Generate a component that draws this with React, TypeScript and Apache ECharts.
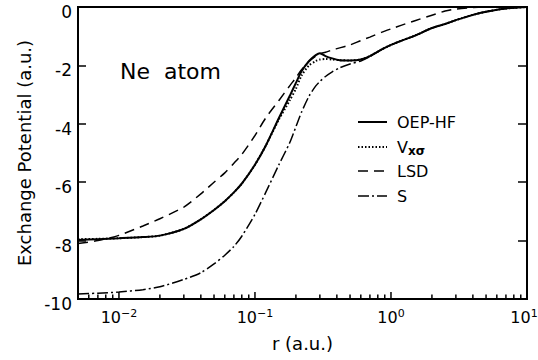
import React, { useEffect, useRef } from "react";
import * as echarts from "echarts";

const rGrid = [0.005, 0.007, 0.01, 0.015, 0.02, 0.03, 0.04, 0.05, 0.06, 0.07, 0.08, 0.1, 0.12, 0.15, 0.18, 0.2, 0.22, 0.25, 0.28, 0.3, 0.33, 0.37, 0.42, 0.5, 0.6, 0.7, 0.85, 1, 1.2, 1.5, 2, 2.5, 3, 4, 5, 7, 10];

const oepHF = [-7.98, -7.95, -7.92, -7.88, -7.83, -7.6, -7.27, -6.95, -6.65, -6.35, -6.05, -5.4, -4.75, -3.8, -3.05, -2.6, -2.2, -1.85, -1.65, -1.58, -1.68, -1.76, -1.82, -1.83, -1.8, -1.68, -1.46, -1.3, -1.15, -0.98, -0.72, -0.58, -0.45, -0.27, -0.16, -0.05, 0];

const vxSigma = [-7.95, -7.94, -7.92, -7.88, -7.83, -7.6, -7.27, -6.95, -6.65, -6.35, -6.05, -5.4, -4.75, -3.85, -3.2, -2.8, -2.35, -2.0, -1.85, -1.8, -1.78, -1.8, -1.82, -1.83, -1.8, -1.68, -1.46, -1.3, -1.15, -0.98, -0.72, -0.58, -0.45, -0.27, -0.16, -0.05, 0];

const lsd = [-8.1, -8.0, -7.82, -7.5, -7.25, -6.85, -6.4, -6.0, -5.68, -5.35, -5.05, -4.4, -3.8, -3.2, -2.7, -2.42, -2.15, -1.86, -1.68, -1.6, -1.55, -1.47, -1.4, -1.3, -1.15, -1.03, -0.87, -0.75, -0.62, -0.47, -0.28, -0.14, -0.07, -0.02, 0, 0, 0];

const sPot = [-9.83, -9.8, -9.76, -9.68, -9.58, -9.33, -9.1, -8.8, -8.5, -8.2, -7.85, -7.1, -6.35, -5.4, -4.65, -4.1, -3.6, -3.05, -2.7, -2.55, -2.38, -2.22, -2.08, -1.95, -1.85, -1.7, -1.46, -1.3, -1.15, -0.98, -0.72, -0.58, -0.45, -0.27, -0.16, -0.05, 0];

const majorTicks = [0.01, 0.1, 1, 10];
const minorTicks = [0.006, 0.007, 0.008, 0.009, 0.02, 0.03, 0.04, 0.05, 0.06, 0.07, 0.08, 0.09, 0.2, 0.3, 0.4, 0.5, 0.6, 0.7, 0.8, 0.9, 2, 3, 4, 5, 6, 7, 8, 9];

const seriesNames = ["OEP-HF", "Vxσ", "LSD", "S"];
const legendLabels = ["OEP-HF", "{v|V}{sub|xσ}", "LSD", "S"];

const FONT = "DejaVu Sans";

export default function App() {
  const ref = useRef<HTMLDivElement>(null);
  useEffect(() => {
    if (!ref.current) return;
    const chart = echarts.init(ref.current, null, { renderer: "svg" });
    const pairs = (vals: number[]) => rGrid.map((r, i) => [r, vals[i]]);
    const baseLine = { type: "line", showSymbol: false, symbol: "none", smooth: 0.25, z: 3 };
    const styles: any[] = [
      { width: 2, type: "solid" },
      { width: 2, type: [1.5, 2] },
      { width: 1.5, type: [10, 6] },
      { width: 1.5, type: [11, 3, 2, 3] },
    ];
    const legendY = [122, 147, 171, 196];
    const legendGraphics: any[] = [];
    seriesNames.forEach((name, i) => {
      legendGraphics.push({
        type: "line",
        silent: true,
        shape: { x1: 358, y1: legendY[i], x2: 387, y2: legendY[i] },
        style: {
          stroke: "#000",
          lineWidth: styles[i].width,
          lineDash: Array.isArray(styles[i].type) ? styles[i].type : null,
        },
      });
      legendGraphics.push({
        type: "text",
        silent: true,
        x: 397,
        y: legendY[i],
        style: {
          text: legendLabels[i],
          fontFamily: FONT,
          fontSize: 16,
          fill: "#000",
          verticalAlign: "middle",
          rich: {
            v: { fontFamily: FONT, fontSize: 16, fill: "#000", color: "#000" },
            sub: {
              fontFamily: FONT,
              fontSize: 12,
              fontWeight: "bold",
              fill: "#000",
              color: "#000",
              padding: [7, 0, 0, 0],
            },
          },
        },
      });
    });

    const tickData = [
      ...majorTicks.map((v) => [v, -10, 7]),
      ...minorTicks.map((v) => [v, -10, 4.5]),
    ];

    chart.setOption({
      animation: false,
      backgroundColor: "#fff",
      textStyle: { fontFamily: FONT, color: "#000" },
      title: {
        text: "Ne  atom",
        left: 120,
        top: 60,
        padding: 0,
        textStyle: { fontFamily: FONT, fontSize: 22, fontWeight: "normal", color: "#000" },
      },
      grid: {
        left: 78,
        right: 11,
        top: 7,
        bottom: 61,
        show: true,
        borderColor: "#000",
        borderWidth: 2,
        backgroundColor: "transparent",
        outerBoundsMode: "none",
        containLabel: false,
      },
      graphic: legendGraphics,
      xAxis: {
        type: "log",
        logBase: 10,
        min: 0.005,
        max: 10,
        name: "r (a.u.)",
        nameLocation: "middle",
        nameGap: 35,
        nameTextStyle: { fontFamily: FONT, fontSize: 18, color: "#000" },
        axisLine: { show: true, lineStyle: { color: "#000", width: 2 } },
        axisTick: { show: false },
        minorTick: { show: false },
        splitLine: { show: false },
        axisLabel: {
          showMinLabel: false,
          margin: 9,
          color: "#000",
          fontFamily: FONT,
          fontSize: 16,
          formatter: (v: number) => {
            const e = Math.round(Math.log10(v));
            const s = e < 0 ? "\u2212" + Math.abs(e) : String(e);
            return e >= 1 ? `{b|10}{supLast|${s}}` : `{b|10}{sup|${s}}`;
          },
          rich: {
            b: { fontSize: 16, fontFamily: FONT, color: "#000" },
            sup: { fontSize: 11, fontFamily: FONT, color: "#000", padding: [0, 0, 8, 0] },
            supLast: { fontSize: 11, fontFamily: FONT, color: "#000", padding: [0, 6, 8, 0] },
          },
        },
      },
      yAxis: [
        {
          type: "value",
          min: -10,
          max: 0,
          interval: 2,
          name: "Exchange Potential (a.u.)",
          nameLocation: "middle",
          nameGap: 43,
          nameTextStyle: { fontFamily: FONT, fontSize: 18, color: "#000" },
          axisLine: { show: true, lineStyle: { color: "#000", width: 2 } },
          axisTick: { show: true, inside: true, length: 8, lineStyle: { color: "#000", width: 1.5 } },
          splitLine: { show: false },
          axisLabel: {
            color: "#000",
            fontFamily: FONT,
            fontSize: 17,
            margin: 6,
            verticalAlign: "top",
            lineHeight: 10,
          },
        },
        {
          type: "value",
          min: -10,
          max: 0,
          interval: 2,
          position: "right",
          axisLine: { show: true, lineStyle: { color: "#000", width: 2 } },
          axisTick: { show: true, inside: true, length: 9, lineStyle: { color: "#000", width: 1.5 } },
          axisLabel: { show: false },
          splitLine: { show: false },
        },
      ],
      series: [
        { ...baseLine, name: seriesNames[0], data: pairs(oepHF), lineStyle: { color: "#000", ...styles[0] } },
        { ...baseLine, name: seriesNames[1], data: pairs(vxSigma), lineStyle: { color: "#000", ...styles[1] } },
        { ...baseLine, name: seriesNames[2], data: pairs(lsd), lineStyle: { color: "#000", ...styles[2] } },
        { ...baseLine, name: seriesNames[3], data: pairs(sPot), lineStyle: { color: "#000", ...styles[3] } },
        {
          type: "custom",
          name: "xTicks",
          silent: true,
          clip: false,
          z: 5,
          data: tickData,
          encode: { x: 0, y: 1 },
          renderItem: (params: any, api: any) => {
            const p = api.coord([api.value(0), -10]);
            const len = api.value(2);
            return {
              type: "line",
              shape: { x1: p[0], y1: p[1], x2: p[0], y2: p[1] - len },
              style: { stroke: "#000", lineWidth: 1.5 },
            };
          },
        },
      ],
    });
    return () => chart.dispose();
  }, []);
  return (
    <div
      ref={ref}
      style={{ position: "fixed", left: 0, top: 0, width: 538, height: 360 }}
    />
  );
}
